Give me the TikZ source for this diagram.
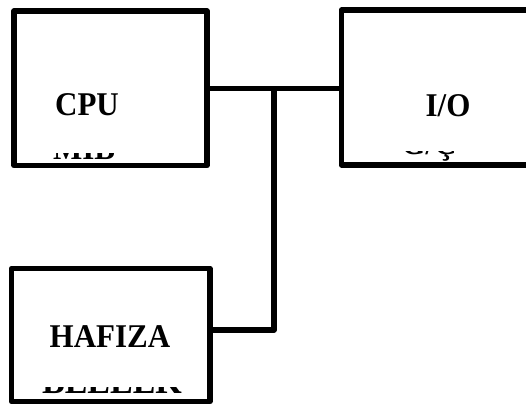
\documentclass[tikz,border=0pt]{standalone}
\usepackage{fontspec}
\setmainfont{Liberation Serif}
\begin{document}
\begin{tikzpicture}[x=1pt,y=-1pt,
  boxline/.style={line width=5.5pt,line join=round,line cap=round},
  bus/.style={line width=5.5pt,line join=round},
  lbl/.style={anchor=base,inner sep=0pt,yscale=1.07,font=\fontsize{31}{36}\selectfont\bfseries},
  sublbl/.style={anchor=base,inner sep=0pt,yscale=1.07,font=\fontsize{31}{36}\selectfont\bfseries}]
\useasboundingbox (0,0) rectangle (526,405);
% boxes
\draw[boxline] (14,11) rectangle (207,165.5);
\draw[boxline] (530,10) -- (341.5,10) -- (341.5,165) -- (530,165);
\draw[boxline] (11.5,268.5) rectangle (210,401.5);
% anchor coordinates
\coordinate (cpuR) at (207,88.5);
\coordinate (ioL) at (341.5,88.5);
\coordinate (j) at (274,88.5);
\coordinate (jb) at (274,330);
\coordinate (memR) at (210,330);
% bus
\draw[bus] (cpuR) -- (ioL);
\draw[bus] (j) -- (jb) -- (memR);
% labels
\node[lbl] (cpu) at (87,115) {CPU};
\node[lbl] (io) at (448,116.5) {I/O};
\node[lbl] (mem) at (110,347) {HAFIZA};
% clipped sub labels
\begin{scope}
\clip (30,153) rectangle (200,162);
\node[sublbl] (mib) at (84,159) {MİB};
\end{scope}
\begin{scope}
\clip (360,151.5) rectangle (500,162);
\node[sublbl] (gc) at (429,154) {G/Ç};
\end{scope}
\begin{scope}
\clip (20,387) rectangle (205,398);
\node[sublbl,font=\fontsize{34}{40}\selectfont\bfseries] (bel) at (112,393.5) {BELLEK};
\end{scope}
\end{tikzpicture}
\end{document}
